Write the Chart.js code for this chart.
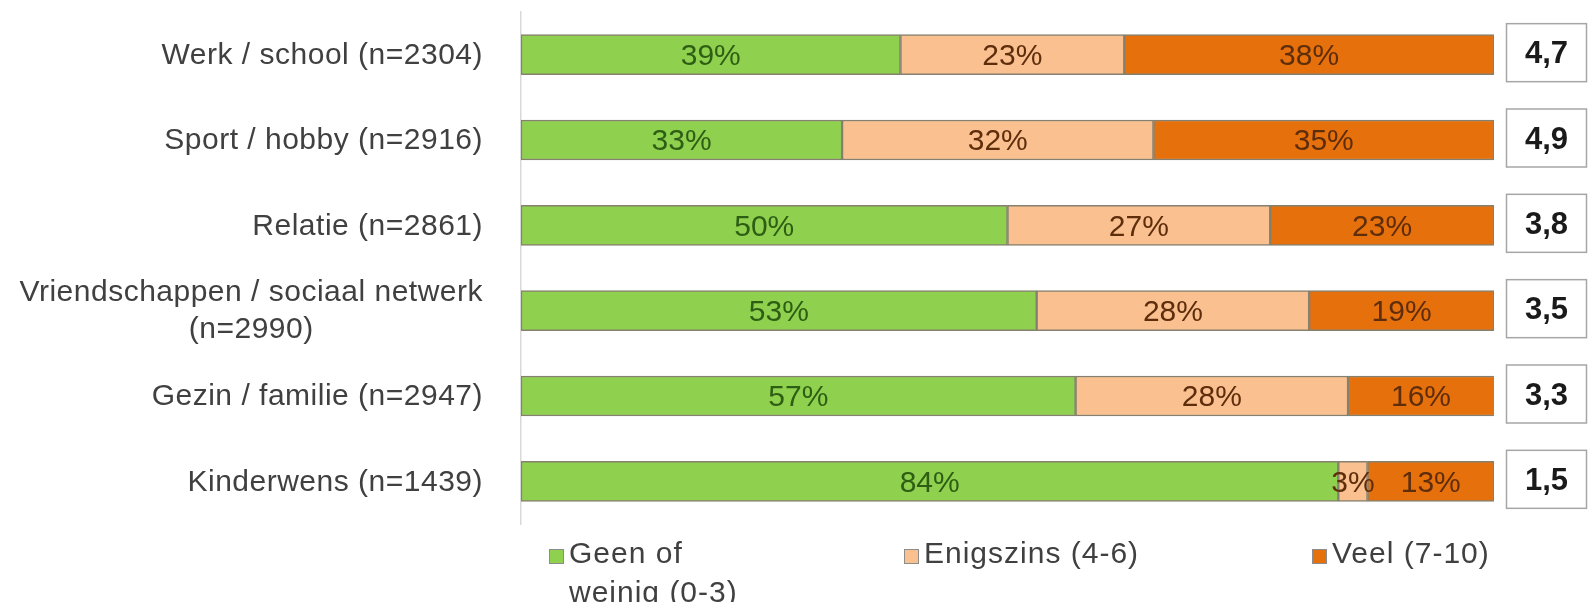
<!DOCTYPE html>
<html>
<head>
<meta charset="utf-8">
<script src="https://cdn.jsdelivr.net/npm/chart.js@4"></script>
<style>
html,body{margin:0;padding:0;background:#fff;}
#wrap{width:1595px;height:602px;position:relative;}
</style>
</head>
<body>
<div id="wrap"><canvas id="c"></canvas></div>
<script>
const categories = [
  'Werk / school (n=2304)',
  'Sport / hobby (n=2916)',
  'Relatie (n=2861)',
  ['Vriendschappen / sociaal netwerk', '(n=2990)'],
  'Gezin / familie (n=2947)',
  'Kinderwens (n=1439)'
];
const geenOfWeinig = [39, 33, 50, 53, 57, 84];
const enigszins    = [23, 32, 27, 28, 28, 3];
const veel         = [38, 35, 23, 19, 16, 13];
const gemiddelde   = [4.7, 4.9, 3.8, 3.5, 3.3, 1.5];
const seriesNames  = [['Geen of', 'weinig (0-3)'], ['Enigszins (4-6)'], ['Veel (7-10)']];
const seriesColors = ['#8fd14f', '#fac08f', '#e6700c'];
const labelColors  = ['#2e5e14', '#5e2d0c', '#5e2d0c'];

const FONT = '"Liberation Sans", Arial, sans-serif';

const customPlugin = {
  id: 'custom',
  afterDatasetsDraw(chart) {
    const ctx = chart.ctx;
    const area = chart.chartArea;
    const yScale = chart.scales.y;
    ctx.save();
    // percentage labels in segments
    ctx.font = '30px ' + FONT;
    ctx.textAlign = 'center';
    ctx.textBaseline = 'middle';
    chart.data.datasets.forEach((ds, di) => {
      const meta = chart.getDatasetMeta(di);
      meta.data.forEach((bar, i) => {
        const right = Math.min(bar.x, area.right);
        const cx = (bar.base + right) / 2;
        ctx.fillStyle = labelColors[di];
        ctx.fillText(ds.data[i] + '%', cx, bar.y + 2);
      });
    });
    // category labels
    ctx.font = '30px ' + FONT;
    ctx.fillStyle = '#404040';
    ctx.letterSpacing = '0.5px';
    const labelRight = area.left - 38;
    categories.forEach((c, i) => {
      const y = yScale.getPixelForValue(i);
      const lines = Array.isArray(c) ? c : [c];
      const maxW = Math.max(...lines.map(l => ctx.measureText(l).width));
      const cx = labelRight - maxW / 2;
      const lh = 37;
      const y0 = y - (lines.length - 1) * lh / 2;
      ctx.textAlign = 'center';
      lines.forEach((l, k) => ctx.fillText(l, cx, y0 + k * lh + 1));
    });
    ctx.letterSpacing = '0px';
    // average value boxes
    const meta0 = chart.getDatasetMeta(0);
    meta0.data.forEach((bar, i) => {
      const bx = area.right + 12, bw = 81, bh = 59;
      const by = bar.y - bh / 2 - 2;
      ctx.fillStyle = '#ffffff';
      ctx.fillRect(bx, by, bw, bh);
      ctx.strokeStyle = '#a6a6a6';
      ctx.lineWidth = 1.5;
      ctx.strokeRect(bx + 0.5, by + 0.5, bw - 1, bh - 1);
      ctx.font = 'bold 31px ' + FONT;
      ctx.fillStyle = '#1a1a1a';
      ctx.textAlign = 'center';
      ctx.fillText(gemiddelde[i].toFixed(1).replace('.', ','), bx + bw / 2, bar.y);
    });
    // legend
    const legendX = [area.left + 28, area.left + 383, area.left + 791];
    const line1 = area.bottom + 31;
    ctx.font = '30px ' + FONT;
    ctx.letterSpacing = '1px';
    ctx.textAlign = 'left';
    ctx.textBaseline = 'middle';
    seriesNames.forEach((name, k) => {
      const x = legendX[k];
      ctx.fillStyle = seriesColors[k];
      ctx.fillRect(x, line1 - 6, 15, 15);
      ctx.strokeStyle = '#8c8c8c';
      ctx.lineWidth = 1;
      ctx.strokeRect(x + 0.5, line1 - 5.5, 14, 14);
      ctx.fillStyle = '#404040';
      name.forEach((t, j) => ctx.fillText(t, x + 20, line1 + j * 39));
    });
    ctx.restore();
  }
};

const ds = [geenOfWeinig, enigszins, veel].map((d, k) => ({
  label: seriesNames[k].join(' '),
  data: d,
  backgroundColor: seriesColors[k],
  borderColor: '#85806f',
  borderWidth: 1.5,
  borderSkipped: false,
  barThickness: 40
}));

new Chart(document.getElementById('c'), {
  type: 'bar',
  data: { labels: categories, datasets: ds },
  options: {
    indexAxis: 'y',
    responsive: true,
    maintainAspectRatio: false,
    animation: false,
    layout: { padding: { left: 513, right: 101, top: 12, bottom: 78 } },
    plugins: { legend: { display: false }, tooltip: { enabled: false } },
    scales: {
      x: { stacked: true, min: 0, max: 100, display: false },
      y: {
        stacked: true,
        grid: { display: false },
        ticks: { display: false },
        border: { display: true, color: '#d9d9d9', width: 1.5 }
      }
    }
  },
  plugins: [customPlugin]
});
</script>
</body>
</html>
